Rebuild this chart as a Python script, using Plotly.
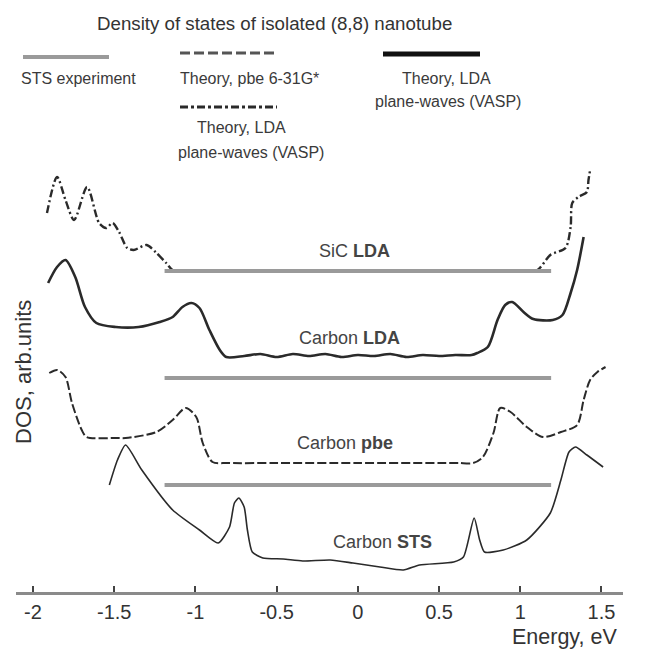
import plotly.graph_objects as go

# ---------------- data (energy in eV, DOS in arbitrary units, curves offset vertically) -------------
sic_lda_E = [-1.914, -1.852, -1.80, -1.747, -1.667, -1.593, -1.55, -1.51, -1.47, -1.42, -1.38, -1.30,
             -1.24, -1.18, -1.14, -1.0, 0.0, 1.0, 1.105, 1.185, 1.278, 1.31, 1.32, 1.358, 1.41, 1.42, 1.43]
sic_lda_D = [379, 415, 392, 372, 405, 369, 364, 369, 360, 344, 342, 347,
             339, 329, 322, 321, 321, 321, 322, 337, 344, 365, 389, 395, 400, 412, 422]

c_lda_E = [-1.907, -1.852, -1.80, -1.74, -1.68, -1.61, -1.49, -1.35, -1.22, -1.14, -1.08, -1.025, -0.975,
           -0.914, -0.85, -0.81, -0.7, -0.6, -0.5, -0.4, -0.3, -0.2, -0.1, 0.0, 0.1, 0.2, 0.3, 0.4, 0.5,
           0.6, 0.7, 0.735, 0.80, 0.86, 0.907, 0.95, 1.02, 1.08, 1.20, 1.26, 1.31, 1.35, 1.39]
c_lda_D = [309, 325, 332, 315, 285, 269, 265, 265, 270, 275, 285, 289, 284,
           262, 242, 235, 236, 238, 235, 238, 236, 238, 235, 237, 236, 238, 235, 237, 236,
           237, 237, 239, 245, 272, 287, 290, 280, 273, 272, 277, 299, 322, 355]

c_pbe_E = [-1.90, -1.85, -1.80, -1.76, -1.70, -1.67, -1.49, -1.43, -1.24, -1.14, -1.06, -0.995, -0.955,
           -0.895, -0.8, -0.5, 0.0, 0.5, 0.62, 0.71, 0.77, 0.835, 0.877, 0.94, 1.04, 1.14, 1.25, 1.35,
           1.39, 1.43, 1.475, 1.525]
c_pbe_D = [219, 222, 215, 189, 162, 155, 154, 154, 160, 172, 184, 175, 149,
           130, 129, 129, 129, 129, 129, 129, 135, 159, 184, 180, 165, 155, 160, 167,
           192, 212, 220, 225]

c_sts_E = [-1.53, -1.48, -1.43, -1.33, -1.14, -0.975, -0.86, -0.79, -0.76, -0.733, -0.70, -0.68, -0.65,
           -0.585, -0.46, -0.34, -0.17, -0.03, 0.136, 0.28, 0.38, 0.59, 0.65, 0.716, 0.75, 0.78, 0.895,
           1.04, 1.185, 1.25, 1.30, 1.34, 1.41, 1.51]
c_sts_D = [107, 132, 147, 122, 82, 62, 49, 65, 89, 94, 85, 62, 40,
           34, 33, 31, 32, 29, 25, 22, 27, 30, 35, 74, 52, 40, 42,
           52, 79, 112, 140, 145, 137, 125]

gap_E = [-1.19, 1.19]            # extent of the grey reference lines
baseline_D = [321, 214, 107]     # offsets of the grey reference lines

curve_labels = ["SiC <b>LDA</b>", "Carbon <b>LDA</b>", "Carbon <b>pbe</b>", "Carbon <b>STS</b>"]
label_E = [-0.02, -0.05, -0.08, 0.15]
label_D = [341, 254, 149, 50]

x_ticks = [-2, -1.5, -1, -0.5, 0, 0.5, 1, 1.5]
x_ticktext = ["-2", "-1.5", "-1", "-0.5", "0", "0.5", "1", "1.5"]

# ---------------- layout geometry -------------
W, H = 651, 650
L, R, T, B = 16, 28, 165, 58
PW, PH = W - L - R, H - T - B
FONT = "Liberation Sans, Arial, sans-serif"
INK = "#2a2a2a"
GRAY = "#9a9a9a"


def px(x):
    return (x - L) / PW


def py(y):
    return (H - B - y) / PH


fig = go.Figure()

fig.add_trace(go.Scatter(x=sic_lda_E, y=sic_lda_D, mode="lines",
                         line=dict(color=INK, width=2.4, dash="8px,3px,2px,3px", shape="spline", smoothing=0.8)))
fig.add_trace(go.Scatter(x=c_lda_E, y=c_lda_D, mode="lines",
                         line=dict(color=INK, width=2.6, shape="spline", smoothing=0.8)))
fig.add_trace(go.Scatter(x=c_pbe_E, y=c_pbe_D, mode="lines",
                         line=dict(color=INK, width=2.0, dash="9px,3px", shape="spline", smoothing=0.8)))
fig.add_trace(go.Scatter(x=c_sts_E, y=c_sts_D, mode="lines",
                         line=dict(color=INK, width=1.6, shape="spline", smoothing=0.6)))

for d in baseline_D:
    fig.add_trace(go.Scatter(x=gap_E, y=[d, d], mode="lines",
                             line=dict(color=GRAY, width=4)))

annotations = []
for txt, e, d in zip(curve_labels, label_E, label_D):
    annotations.append(dict(x=e, y=d, xref="x", yref="y", text=txt, showarrow=False,
                            font=dict(family=FONT, size=18, color="#444"),
                            xanchor="center", yanchor="middle"))

# title and legend block
def ptxt(x, y, text, size=16, color="#3a3a3a"):
    annotations.append(dict(x=px(x), y=py(y), xref="paper", yref="paper", text=text,
                            showarrow=False, font=dict(family=FONT, size=size, color=color),
                            xanchor="center", yanchor="middle"))

ptxt(274, 23, "Density of states of isolated (8,8) nanotube", size=18.7, color="#333")
ptxt(78, 78, "STS experiment")
ptxt(249, 78, "Theory, pbe 6-31G*")
ptxt(241, 128, "Theory, LDA")
ptxt(251, 152, "plane-waves (VASP)")
ptxt(446, 78, "Theory, LDA")
ptxt(448, 101, "plane-waves (VASP)")

# axis titles
ptxt(564, 637, "Energy, eV", size=21.5, color="#333")
annotations.append(dict(x=px(23), y=py(372), xref="paper", yref="paper", text="DOS, arb.units",
                        showarrow=False, textangle=-90,
                        font=dict(family=FONT, size=22, color="#333"),
                        xanchor="center", yanchor="middle"))

shapes = [
    dict(type="line", xref="paper", yref="paper", x0=px(23), x1=px(109), y0=py(57), y1=py(57),
         line=dict(color=GRAY, width=4)),
    dict(type="line", xref="paper", yref="paper", x0=px(180), x1=px(277), y0=py(53), y1=py(53),
         line=dict(color="#555", width=3, dash="10px,4px")),
    dict(type="line", xref="paper", yref="paper", x0=px(180), x1=px(277), y0=py(107), y1=py(107),
         line=dict(color=INK, width=3, dash="8px,3px,3px,3px")),
    dict(type="line", xref="paper", yref="paper", x0=px(383), x1=px(480), y0=py(54), y1=py(54),
         line=dict(color="#111", width=5)),
]

x0 = -2 - (33 - L) / 162.3
x1 = 1.5 + (W - R - 601.5) / 162.3

fig.update_layout(
    width=W, height=H,
    margin=dict(l=L, r=R, t=T, b=B),
    paper_bgcolor="white", plot_bgcolor="white",
    showlegend=False,
    annotations=annotations,
    shapes=shapes,
    xaxis=dict(range=[x0, x1], tickvals=x_ticks, ticktext=x_ticktext,
               showgrid=False, zeroline=False, showline=True, linecolor="#8a8a8a", linewidth=3,
               ticks="inside", ticklen=6, tickwidth=2, tickcolor="#444",
               tickfont=dict(family=FONT, size=20, color="#333")),
    yaxis=dict(range=[0, PH], showgrid=False, zeroline=False, showline=False,
               showticklabels=False, ticks=""),
)

fig.write_html("out.html")
